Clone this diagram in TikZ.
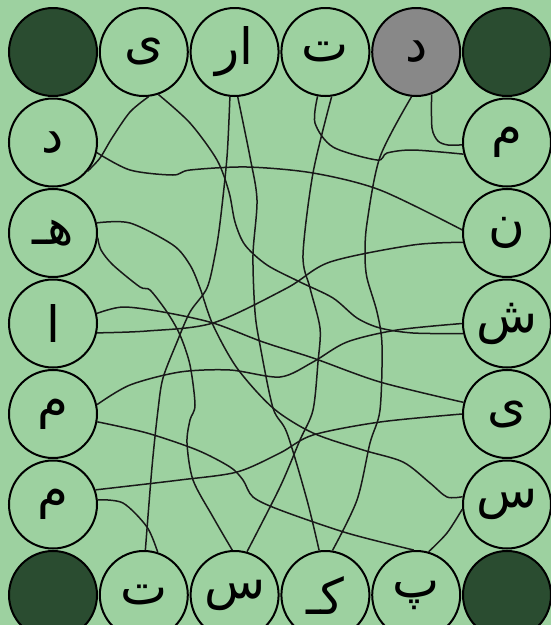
\documentclass[tikz,border=0pt]{standalone}
\usepackage{fontspec}
\newfontfamily\arabicfont[Script=Arabic]{DejaVu Sans}
\TeXXeTstate=1
\definecolor{bggreen}{RGB}{157,209,160}
\definecolor{cornergreen}{RGB}{42,76,48}
\definecolor{usedgrey}{RGB}{136,136,136}
\tikzset{
  letterdisc/.style={circle,draw=black,line width=2pt,fill=bggreen,minimum size=88pt,inner sep=0pt,
    font=\arabicfont\fontsize{50}{60}\selectfont},
  cornerdisc/.style={letterdisc,fill=cornergreen},
  link/.style={line width=1.5pt,black!90}
}
\newcommand{\rl}[1]{\beginR #1\endR}
\begin{document}
\begin{tikzpicture}[x=1pt,y=-1pt]
\path[use as bounding box] (0,0) rectangle (551,625);
\clip (0,0) rectangle (551,625);
\fill[bggreen] (0,0) rectangle (551,625);
\node[cornerdisc] (t1) at (53,52) {};
\node[letterdisc] (t2) at (143.8,52) {\rl{ی}};
\node[letterdisc] (t3) at (234.6,52) {\rl{ار}};
\node[letterdisc] (t4) at (325.4,52) {\rl{ت}};
\node[letterdisc,fill=usedgrey] (t5) at (416.2,52) {\rl{د}};
\node[cornerdisc] (t6) at (507,52) {};
\node[letterdisc] (l1) at (53,142.5) {\rl{د}};
\node[letterdisc] (l2) at (53,233) {\rl{هـ}};
\node[letterdisc] (l3) at (53,323.5) {\rl{ا}};
\node[letterdisc] (l4) at (53,414) {\rl{م}};
\node[letterdisc] (l5) at (53,504.5) {\rl{م}};
\node[letterdisc] (r1) at (507,142.5) {\rl{م}};
\node[letterdisc] (r2) at (507,233) {\rl{ن}};
\node[letterdisc] (r3) at (507,323.5) {\rl{ش}};
\node[letterdisc] (r4) at (507,414) {\rl{ی}};
\node[letterdisc] (r5) at (507,504.5) {\rl{س}};
\node[cornerdisc] (b1) at (53,595) {};
\node[letterdisc] (b2) at (143.8,595) {\rl{ت}};
\node[letterdisc] (b3) at (234.6,595) {\rl{س}};
\node[letterdisc] (b4) at (325.4,595) {\rl{کـ}};
\node[letterdisc] (b5) at (416.2,595) {\rl{پ}};
\node[cornerdisc] (b6) at (507,595) {};
\draw[link] plot[smooth] coordinates {(t2.-84) (130,112) (112,138) (100,158) (l1.-40)};
\draw[link] plot[smooth] coordinates {(t2.-71) (190,123) (217,160) (229,192) (235,222) (245,245) (267,265) (300,282) (333,298) (357,318) (380,328) (413,333) (r3.-167)};
\draw[link] plot[smooth] coordinates {(t3.-96) (227,157) (220,223) (215,255) (207,288) (190,312) (177,342) (163,378) (158,410) (152,467) (b2.88)};
\draw[link] plot[smooth] coordinates {(t3.-86) (250,157) (257,200) (253,255) (255,312) (260,345) (273,408) (287,433) (307,500) (b4.98)};
\draw[link] plot[smooth] coordinates {(t4.-100) (315,123) (333,147) (377,160) (387,153) (413,150) (r1.-165)};
\draw[link] plot[smooth] coordinates {(t4.-82) (313,173) (303,255) (310,288) (320,328) (318,362) (313,410) (300,440) (280,487) (b3.74)};
\draw[link] plot[smooth] coordinates {(t5.-70) (432,128) (438,141) (448,145) (r1.-177)};
\draw[link] plot[smooth] coordinates {(t5.-96) (380,157) (367,223) (365,255) (367,278) (377,312) (382,345) (380,410) (370,443) (357,500) (b4.81)};
\draw[link] plot[smooth] coordinates {(l1.-13) (130,170) (173,175) (190,170) (247,167) (313,173) (380,190) (r2.176)};
\draw[link] plot[smooth] coordinates {(l2.13) (130,223) (173,245) (190,265) (200,288) (213,325) (237,368) (273,408) (313,433) (363,450) (403,462) (430,483) (447,497) (r5.170)};
\draw[link] plot[smooth] coordinates {(l2.-6) (101,250) (113,265) (140,287) (150,290) (167,312) (180,335) (190,365) (195,405) (190,420) (187,443) (193,480) (213,517) (b3.93)};
\draw[link] plot[smooth] coordinates {(l3.13) (123,307) (163,312) (213,323) (263,342) (313,358) (380,382) (r4.165)};
\draw[link] plot[smooth] coordinates {(l3.-12) (147,331) (213,323) (287,288) (330,262) (413,245) (r2.192)};
\draw[link] plot[smooth] coordinates {(l4.12) (130,385) (180,372) (230,370) (280,377) (313,362) (347,342) (397,330) (r3.180)};
\draw[link] plot[smooth] coordinates {(l4.-10) (147,433) (197,450) (230,467) (243,480) (253,497) (280,510) (347,533) (b5.93)};
\draw[link] plot[smooth] coordinates {(l5.19) (180,480) (237,472) (280,453) (313,435) (380,422) (r4.180)};
\draw[link] plot[smooth] coordinates {(l5.6) (123,503) (147,527) (b2.72)};
\draw[link] plot[smooth] coordinates {(b5.74) (447,533) (r5.186)};
\end{tikzpicture}
\end{document}
